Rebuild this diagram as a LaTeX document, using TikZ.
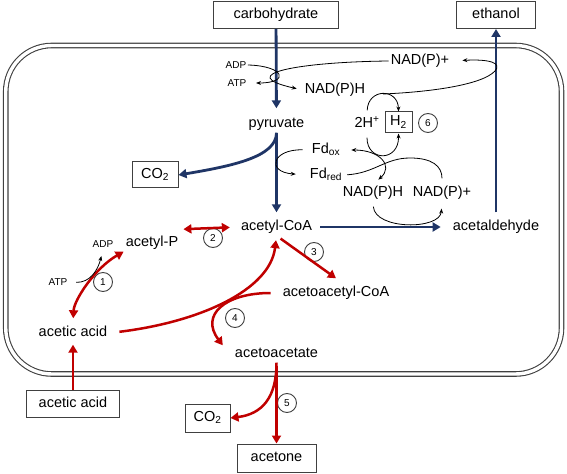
\documentclass[tikz,border=0pt]{standalone}
\usepackage{fontspec}
\setmainfont{Liberation Sans}
\usetikzlibrary{arrows.meta}
\definecolor{cellgray}{HTML}{404040}
\definecolor{pathblue}{HTML}{1F3566}
\definecolor{pathred}{HTML}{C00000}

\begin{document}
\begin{tikzpicture}[x=1bp, y=-1bp,
	every node/.style={font=\fontsize{14.5bp}{17bp}\selectfont, inner sep=2bp, text height=10bp, text depth=3bp},
	compound/.style={draw=cellgray, line width=1bp, minimum height=27bp},
	cofactor/.style={font=\fontsize{10bp}{12bp}\selectfont, text height=7bp, text depth=0bp, inner sep=1.5bp},
	enzyme/.style={draw=cellgray, circle, line width=0.9bp, minimum size=19bp, inner sep=0bp, font=\fontsize{10bp}{12bp}\selectfont, text height=7bp, text depth=0bp},
	blueflux/.style={pathblue, line width=2.8bp, -{Triangle[length=8bp,width=9bp]}},
	redflux/.style={pathred, line width=2.5bp, -{Triangle[length=8bp,width=9bp]}},
	redox/.style={black, line width=0.8bp, -{Stealth[length=5bp,width=4bp]}}]
		\useasboundingbox (0,0) rectangle (567,474);
		
		% cell
		\draw[cellgray, line width=1.1bp, double distance=3.4bp, rounded corners=46bp] (5.75,45.5) rectangle (561.5,374);
		
		\node[compound, minimum width=125bp] (carb) at (276,15) {carbohydrate};
		\node[compound, minimum width=79bp] (ethanol) at (496,15) {ethanol};
		\node[compound, minimum width=46bp, minimum height=26bp] (co2top) at (155,175) {CO\textsubscript{2}};
		\node[compound, minimum width=92bp] (aceticout) at (73,403.5) {acetic acid};
		\node[compound, minimum width=45bp, minimum height=28bp] (co2bot) at (207.5,418) {CO\textsubscript{2}};
		\node[compound, minimum width=79bp, minimum height=28bp] (acetone) at (276.5,458) {acetone};
		\node[compound, minimum width=27bp, minimum height=21bp] (h2) at (398.5,122.5) {H\textsubscript{2}};
		
		\node (pyr) at (276.5,124) {pyruvate};
		\node (acetcoa) at (276.5,227) {acetyl-CoA};
		\node (acetald) at (496,227) {acetaldehyde};
		\node (acetylp) at (152,243) {acetyl-P};
		\node (aceticin) at (73,333) {acetic acid};
		\node (aacoa) at (336,293) {acetoacetyl-CoA};
		\node (aacetate) at (276.5,354) {acetoacetate};
		\node (nadph1) at (335,90) {NAD(P)H};
		\node (nadpp1) at (420,61) {NAD(P)+};
		\node (nadph2) at (373,193) {NAD(P)H};
		\node (nadpp2) at (442,193) {NAD(P)+};
		\node (twoh) at (367,124) {2H\textsuperscript{+}};
		\node (fdox) at (326,150) {Fd\textsubscript{ox}};
		\node (fdred) at (326,175) {Fd\textsubscript{red}};
		\node[cofactor] (adp1) at (236,65) {ADP};
		\node[cofactor] (atp1) at (237,83) {ATP};
		\node[cofactor] (adp2) at (103,244) {ADP};
		\node[cofactor] (atp2) at (58,282) {ATP};
		
		\node[enzyme] (e1) at (103,282) {1};
		\node[enzyme] (e2) at (213,238) {2};
		\node[enzyme] (e3) at (314,252) {3};
		\node[enzyme] (e4) at (235,318) {4};
		\node[enzyme] (e5) at (287,403) {5};
		\node[enzyme] (e6) at (428,123) {6};
		
		\draw[blueflux, shorten >=7bp] (carb) -- (pyr);
		\draw[blueflux, shorten >=6bp] (pyr) -- (acetcoa);
		\draw[blueflux] (pyr.south) .. controls (276.5,157) and (232,166) .. (co2top.east);
		\draw[blueflux, shorten <=6bp, shorten >=10bp] (acetcoa) -- (acetald);
		\draw[blueflux, shorten <=6bp] (acetald) -- (ethanol);
		
		\draw[redflux, shorten >=3bp] (aceticout) -- (aceticin);
		\draw[redflux, {Triangle[length=8bp,width=9bp]}-{Triangle[length=8bp,width=9bp]}, shorten <=6bp] (aceticin.north) .. controls (74,300) and (95,268) .. (acetylp.south west);
		\draw[redflux, {Triangle[length=8bp,width=9bp]}-{Triangle[length=8bp,width=9bp]}, shorten <=3bp, shorten >=9bp] ([yshift=5bp]acetylp.north east) -- (acetcoa.west);
		\draw[redflux, shorten <=10bp, shorten >=4.5bp] (aceticin.east) .. controls (200,322) and (270,290) .. (acetcoa.south);
		\draw[redflux, shorten <=5bp] (acetcoa.south) -- ([yshift=6bp]aacoa.north);
		\draw[redflux, shorten <=10bp] (aacoa.west) .. controls (225,293) and (200,315) .. ([xshift=-10bp]aacetate.north west);
		\draw[redflux, shorten <=3bp] (aacetate) -- (acetone);
		\draw[redflux] (aacetate.south) .. controls (276.5,398) and (262,414) .. (co2bot.east);
		
		\draw[redox, shorten >=8bp] (adp1.east) .. controls (285,66) and (290,83) .. (atp1.east);
		\draw[redox, shorten >=6bp] (nadpp1.west) .. controls (300,62) and (232,74) .. (nadph1.west);
		\draw[redox, shorten <=5bp] (twoh.north) .. controls (368,88) and (398,88) .. (h2.north);
		\coordinate (h2peak) at (383,94);
		\draw[redox, shorten >=11bp] (h2peak) .. controls (430,92) and (482,85) .. (495,71) .. controls (502,63) and (490,59) .. (nadpp1.east);
		\draw[redox, shorten <=5bp] (twoh.south) .. controls (367,162) and (399,162) .. (h2.south);
		\draw[redox, shorten <=7bp, shorten >=12bp] (fdox.west) .. controls (272,149) and (266,172) .. (fdred.west);
		\draw[redox, -, shorten <=3bp, shorten >=6bp] (fdred.east) .. controls (375,173) and (385,158) .. (410,158) .. controls (432,158) and (442,166) .. (nadpp2.north);
		\draw[redox, {Stealth[length=5bp,width=4bp]}-{Stealth[length=5bp,width=4bp]}, shorten <=9bp, shorten >=7bp] (fdox.east) .. controls (380,150) and (394,166) .. (nadph2.north);
		\draw[redox, shorten <=5bp, shorten >=7bp] (nadph2.south) .. controls (375,230) and (440,230) .. (nadpp2.south);
		\draw[redox, shorten <=7bp, shorten >=7bp] (atp2.east) .. controls (90,283) and (98,270) .. (adp2.south);
	\end{tikzpicture}
\end{document}
